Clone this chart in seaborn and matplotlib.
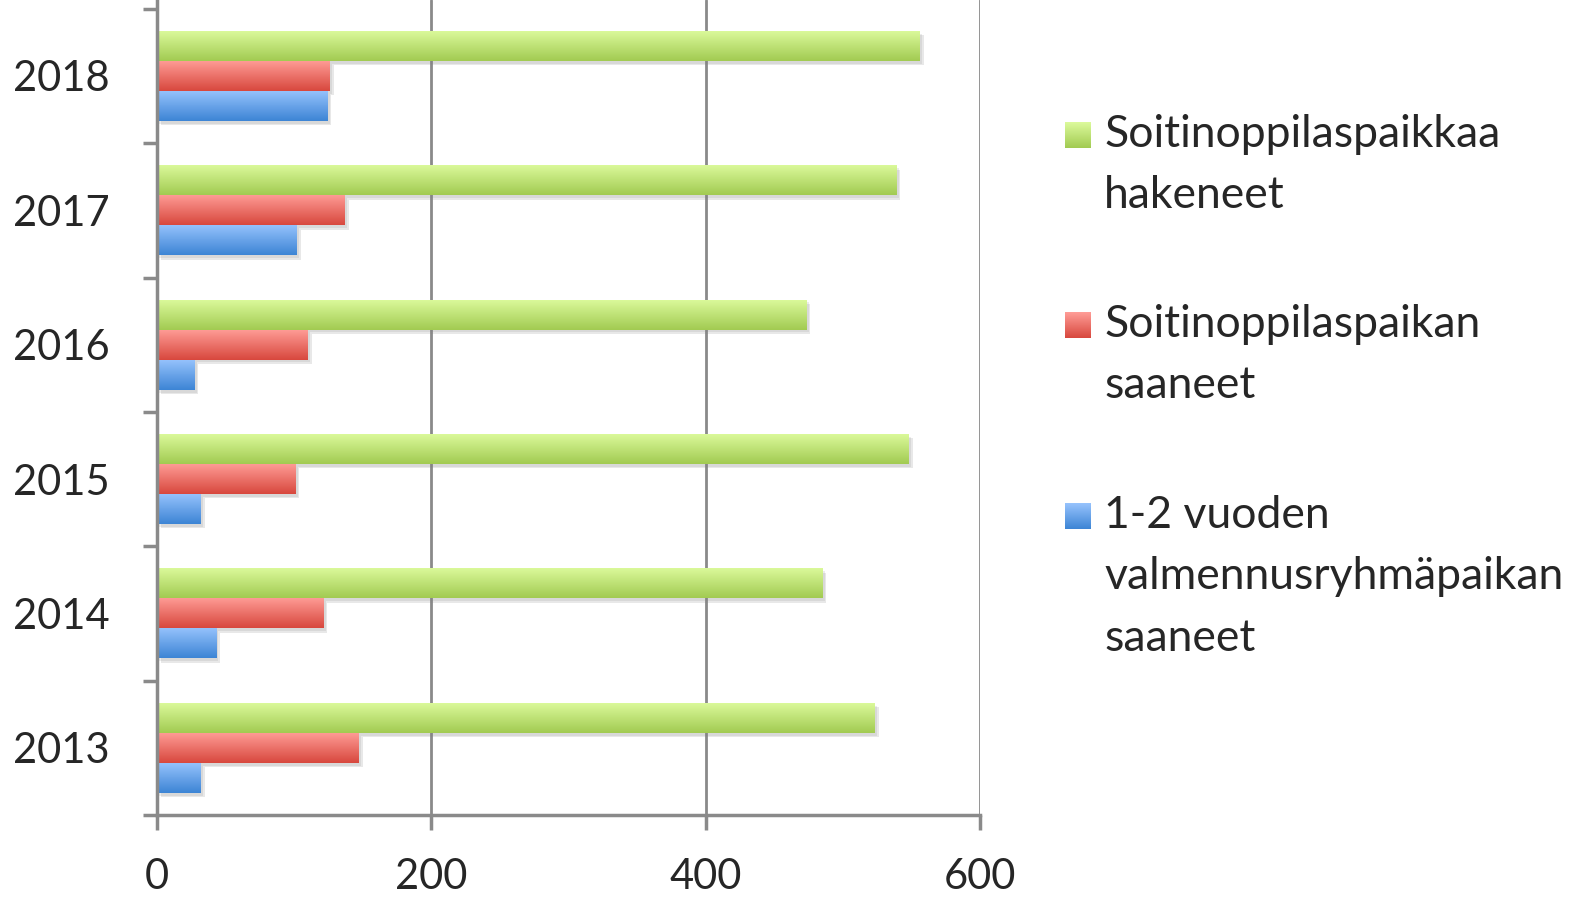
import numpy as np
import pandas as pd
import matplotlib
matplotlib.use('Agg')
import matplotlib.pyplot as plt
import matplotlib.patheffects as pe
from matplotlib.colors import LinearSegmentedColormap
import seaborn as sns

years = ['2013', '2014', '2015', '2016', '2017', '2018']
hakeneet = [523, 485, 548, 473, 539, 556]
saaneet = [147, 121, 101, 110, 137, 126]
valmennus = [32, 43, 32, 27, 102, 124]

series_names = ['Soitinoppilaspaikkaa\nhakeneet',
                'Soitinoppilaspaikan\nsaaneet',
                '1-2 vuoden\nvalmennusryhmäpaikan\nsaaneet']
# light top / dark bottom of each bar gradient
grad_colors = [('#dcfa9c', '#a2cb52'),
               ('#ff9d97', '#d8483e'),
               ('#97c3fd', '#3d85d5')]
xticks = [0, 200, 400, 600]

df = pd.DataFrame({
    'year': years * 3,
    'value': hakeneet + saaneet + valmennus,
    'series': np.repeat(series_names, len(years)),
})

sns.set_style('white')
plt.rcParams['font.family'] = ['Lato', 'DejaVu Sans']

W, H = 1591, 897
fig = plt.figure(figsize=(W / 100, H / 100), dpi=100)
ax = fig.add_axes([156.7 / W, 1 - 815 / H, (980 - 156.7) / W, 815 / H])

sns.barplot(data=df, x='value', y='year', hue='series', order=years[::-1],
            hue_order=series_names, orient='h', width=0.67, saturation=1,
            palette=[c[1] for c in grad_colors], linewidth=0, legend=False, ax=ax)

# gradient fill + soft shadow on every bar
grad = np.linspace(0, 1, 64).reshape(-1, 1)
for cont, (c_top, c_bot) in zip(ax.containers, grad_colors):
    cmap = LinearSegmentedColormap.from_list('g', [c_top, c_bot])
    for bar in cont:
        x0, y0 = bar.get_x(), bar.get_y()
        w, h = bar.get_width(), bar.get_height()
        bar.set_path_effects([pe.SimplePatchShadow(offset=(3, -3), shadow_rgbFace='#808080', alpha=0.18),
                              pe.SimplePatchShadow(offset=(2, -2), shadow_rgbFace='#808080', alpha=0.15),
                              pe.Normal()])
        im = ax.imshow(grad, cmap=cmap, aspect='auto', origin='upper',
                       extent=(x0, x0 + w, y0 + h, y0), zorder=bar.get_zorder() + 0.1,
                       interpolation='bilinear')
        im.set_clip_path(bar)

ax.set_xlim(0, 600)
ax.set_ylim(5.5, -0.5 - 8.8 / 134.4)
ax.set_xlabel('')
ax.set_ylabel('')

grey = '#8a8a8a'
ax.grid(axis='x', color=grey, linewidth=2)
ax.set_axisbelow(True)
for s in ['top', 'right']:
    ax.spines[s].set_visible(False)
for s in ['left', 'bottom']:
    ax.spines[s].set_color(grey)
    ax.spines[s].set_linewidth(2.5)

ax.set_xticks(xticks)
ax.tick_params(axis='x', bottom=True, length=11, width=2.5, color=grey, pad=20, labelsize=30)
ax.set_yticks(np.arange(-0.5, 6), minor=True)
ax.tick_params(axis='y', which='major', left=True, length=0, pad=34, labelsize=30)
ax.tick_params(axis='y', which='minor', left=True, length=10, width=2.5, color=grey)

# legend drawn by hand so the square sits on the first text line
leg_top = [122, 312, 503]
for name, (c_top, c_bot), yy in zip(series_names, grad_colors, leg_top):
    cmap = LinearSegmentedColormap.from_list('g', [c_top, c_bot])
    sq = fig.add_axes([1065 / W, 1 - (yy + 26) / H, 26 / W, 26 / H])
    sq.imshow(grad, cmap=cmap, aspect='auto', interpolation='bilinear')
    sq.axis('off')
    fig.text(1104 / W, 1 - (yy - 8) / H, name, va='top', ha='left',
             fontsize=32, linespacing=1.62)

fig.savefig('out.png', dpi=100)
